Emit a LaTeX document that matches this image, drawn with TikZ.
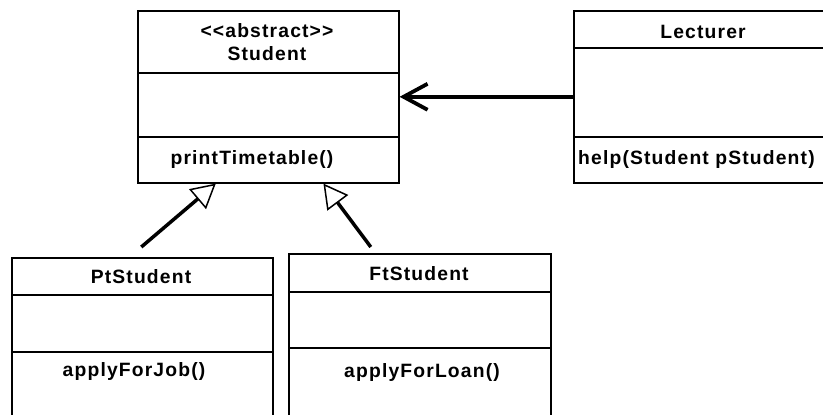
\documentclass[tikz,border=0pt]{standalone}
\usepackage{fontspec}
\setmainfont{Liberation Sans}[LetterSpace=6]
\usetikzlibrary{positioning, arrows.meta, calc}

\begin{document}
\begin{tikzpicture}[
      x=1pt, y=-1pt,
      class_box/.style={draw, line width=1.6pt, inner sep=0pt, anchor=north west},
      class_txt/.style={font=\fontsize{19.3}{23}\selectfont\bfseries, inner sep=0pt, align=center},
      divider/.style={line width=1.6pt},
      edge_gen/.style={-{Triangle[open, length=24pt, width=26pt, line width=1.5pt]}, line width=3.5pt},
      edge_assoc/.style={-{Straight Barb[length=24pt, width=26pt]}, line width=3.8pt}
    ]
      \useasboundingbox (0,0) rectangle (823,415);
      \clip (0,0) rectangle (823,415);

      % class boxes
      \node[class_box, minimum width=261pt, minimum height=172pt] (stu) at (137,10) {};
      \node[class_box, minimum width=270pt, minimum height=172pt] (lec) at (573,10) {};
      \node[class_box, minimum width=261pt, minimum height=170pt] (pt) at (11,257) {};
      \node[class_box, minimum width=262pt, minimum height=170pt] (ft) at (288,253) {};

      % compartments
      \draw[divider] ([yshift=-63pt]stu.north west) -- ([yshift=-63pt]stu.north east);
      \draw[divider] ([yshift=-127pt]stu.north west) -- ([yshift=-127pt]stu.north east);
      \draw[divider] ([yshift=-38pt]lec.north west) -- ([yshift=-38pt]lec.north east);
      \draw[divider] ([yshift=-127pt]lec.north west) -- ([yshift=-127pt]lec.north east);
      \draw[divider] ([yshift=-38pt]pt.north west) -- ([yshift=-38pt]pt.north east);
      \draw[divider] ([yshift=-95pt]pt.north west) -- ([yshift=-95pt]pt.north east);
      \draw[divider] ([yshift=-39pt]ft.north west) -- ([yshift=-39pt]ft.north east);
      \draw[divider] ([yshift=-95pt]ft.north west) -- ([yshift=-95pt]ft.north east);

      % texts
      \node[class_txt] (stu_name) at (267,42.5) {<{}<abstract>{}>\\Student};
      \node[class_txt] (stu_op) at (252,160) {printTimetable()};
      \node[class_txt] (lec_name) at (703,32) {Lecturer};
      \node[class_txt, anchor=west] (lec_op) at (578,160) {help(Student pStudent)};
      \node[class_txt] (pt_name) at (141,277) {PtStudent};
      \node[class_txt] (pt_op) at (134,372) {applyForJob()};
      \node[class_txt] (ft_name) at (419,274) {FtStudent};
      \node[class_txt] (ft_op) at (422,373) {applyForLoan()};

      % relations
      \draw[edge_gen] ([xshift=-1pt, yshift=10pt]pt.north) -- ($(stu.south west)!0.3!(stu.south east)$);
      \draw[edge_gen] ([xshift=-49pt, yshift=6pt]ft.north) -- ($(stu.south west)!0.71!(stu.south east)$);
      \draw[edge_assoc] (lec.west) -- (stu.east);
    \end{tikzpicture}
\end{document}
